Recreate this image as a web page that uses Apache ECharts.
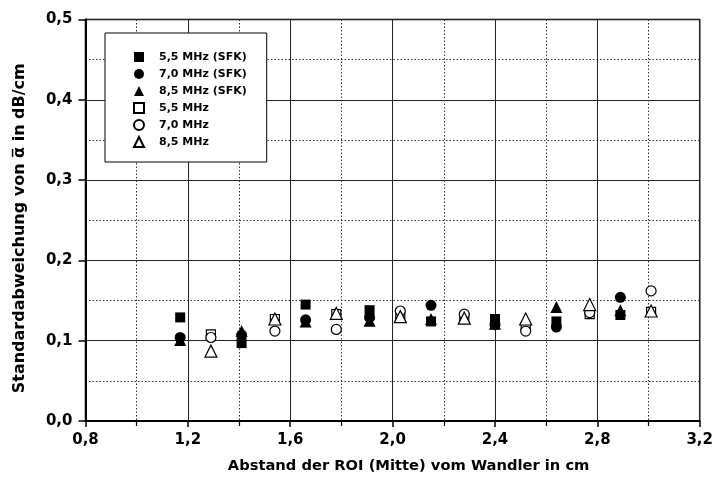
<!DOCTYPE html>
<html><head><meta charset="utf-8">
<script src="https://cdn.jsdelivr.net/npm/echarts@6/dist/echarts.min.js"></script>
<style>html,body{margin:0;padding:0;background:#fff}#c{width:716px;height:486px}</style>
</head><body><div id="c"></div>
<script>
// Filled (SFK) measurement positions
const xFilled = [1.17, 1.41, 1.66, 1.91, 2.15, 2.40, 2.64, 2.89];
// Open measurement positions
const xOpen = [1.29, 1.54, 1.78, 2.03, 2.28, 2.52, 2.77, 3.01];

const sfk55 = [0.129, 0.097, 0.145, 0.138, 0.124, 0.127, 0.124, 0.132];
const sfk70 = [0.104, 0.107, 0.126, 0.129, 0.144, 0.120, 0.117, 0.154];
const sfk85 = [0.101, 0.112, 0.124, 0.125, 0.127, 0.121, 0.142, 0.138];
const o55 = [0.108, 0.127, 0.133, 0.130, 0.128, 0.117, 0.133, 0.136];
const o70 = [0.104, 0.112, 0.114, 0.137, 0.133, 0.112, 0.135, 0.162];
const o85 = [0.087, 0.127, 0.134, 0.130, 0.128, 0.127, 0.145, 0.137];

const names = ['5,5 MHz (SFK)', '7,0 MHz (SFK)', '8,5 MHz (SFK)', '5,5 MHz', '7,0 MHz', '8,5 MHz'];
const xTitle = 'Abstand der ROI (Mitte) vom Wandler in cm';
const yTitle = 'Standardabweichung von \u03B1\u0305 in dB/cm';

function pairs(xs, ys){ return xs.map((x,i)=>[x, ys[i]]); }
const fmt = v => v.toFixed(1).replace('.', ',');
const FONT = '"DejaVu Sans", "Liberation Sans", sans-serif';

function mk(name, xs, ys, sym, size, filled){
  return {
    name, type: 'scatter', data: pairs(xs, ys), symbol: sym, symbolSize: size,
    itemStyle: filled ? {color: '#000', borderColor: '#000', borderWidth: 0, opacity: 1}
                      : {color: '#fff', borderColor: '#000', borderWidth: 1.2, opacity: 1},
    z: filled ? 3 : 4
  };
}

const chart = echarts.init(document.getElementById('c'), null, {renderer: 'canvas'});
chart.setOption({
  animation: false,
  backgroundColor: '#fff',
  grid: {left: 85.5, right: 14, top: 19.5, bottom: 65, show: true, borderColor: '#000', borderWidth: 1.5, backgroundColor: 'transparent'},
  legend: {
    orient: 'vertical', left: 105, top: 33, width: 160,
    padding: [18, 20, 14, 28],
    itemGap: 5, itemWidth: 10, itemHeight: 10,
    backgroundColor: '#fff', borderColor: '#000', borderWidth: 1,
    textStyle: {fontFamily: FONT, fontWeight: 'bold', fontSize: 11, color: '#000', padding: [0,0,0,10], lineHeight: 12},
    data: names
  },
  xAxis: {
    type: 'value', min: 0.8, max: 3.2, interval: 0.4,
    name: xTitle, nameLocation: 'middle', nameGap: 38,
    nameTextStyle: {fontFamily: FONT, fontWeight: 'bold', fontSize: 14.7, color: '#000', padding: [0, 0, 0, 32]},
    axisLine: {lineStyle: {color: '#000', width: 2}},
    axisTick: {inside: false, length: 6, lineStyle: {color: '#000', width: 1.5}},
    minorTick: {show: true, splitNumber: 2, length: 5, lineStyle: {color: '#000', width: 1.2}},
    axisLabel: {formatter: fmt, fontFamily: FONT, fontWeight: 'bold', fontSize: 15, color: '#000', margin: 12},
    splitLine: {show: true, lineStyle: {color: '#222', width: 1}},
    minorSplitLine: {show: true, lineStyle: {color: '#333', width: 1, type: [1.5, 2]}}
  },
  yAxis: {
    type: 'value', min: 0, max: 0.5, interval: 0.1,
    name: yTitle, nameLocation: 'middle', nameGap: 58,
    nameTextStyle: {fontFamily: FONT, fontWeight: 'bold', fontSize: 16, color: '#000', padding: [0, 16, 0, 0]},
    axisLine: {lineStyle: {color: '#000', width: 2}},
    axisTick: {inside: false, length: 7, lineStyle: {color: '#000', width: 1.5}},
    minorTick: {show: false, splitNumber: 2},
    axisLabel: {formatter: fmt, fontFamily: FONT, fontWeight: 'bold', fontSize: 15, color: '#000', margin: 13},
    splitLine: {show: true, lineStyle: {color: '#222', width: 1}},
    minorSplitLine: {show: true, lineStyle: {color: '#333', width: 1, type: [1.5, 2]}}
  },
  series: [
    mk(names[0], xFilled, sfk55, 'rect', 10, true),
    mk(names[1], xFilled, sfk70, 'circle', 11, true),
    mk(names[2], xFilled, sfk85, 'triangle', 12, true),
    mk(names[3], xOpen, o55, 'rect', 9, false),
    mk(names[4], xOpen, o70, 'circle', 10, false),
    mk(names[5], xOpen, o85, 'triangle', 12, false)
  ]
});
</script></body></html>
